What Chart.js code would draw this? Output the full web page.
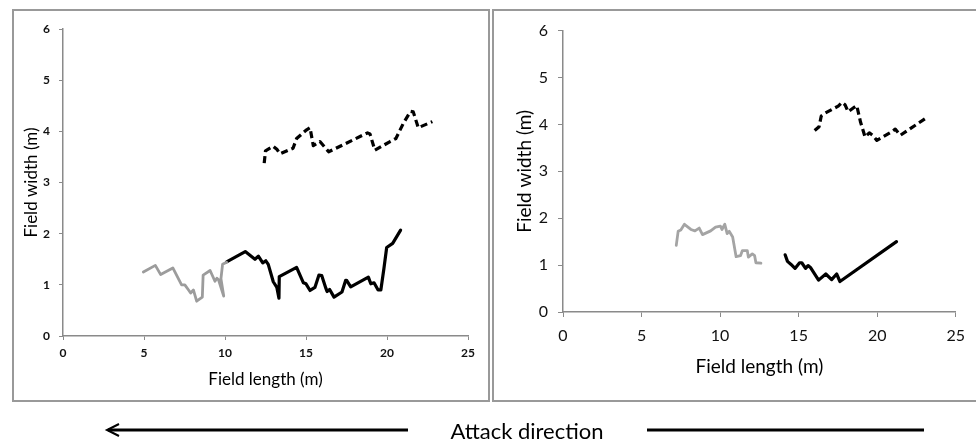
<!DOCTYPE html>
<html>
<head>
<meta charset="utf-8">
<script src="https://cdn.jsdelivr.net/npm/chart.js@4"></script>
<style>
body{margin:0;background:#fff;width:976px;height:444px;overflow:hidden;position:relative;font-family:Lato,sans-serif;}
.panel{position:absolute;border:2px solid #999;box-sizing:border-box;}
#panelA{left:12px;top:9px;width:478px;height:393px;}
#panelB{left:492px;top:9px;width:486px;height:393px;}
canvas.graf{position:absolute;}
#graficoA{left:14px;top:11px;}
#graficoB{left:495px;top:11px;}
#flecha{position:absolute;left:0;top:416px;}
#texto{position:absolute;left:407px;top:417px;width:240px;text-align:center;font-size:22px;color:#000;}
</style>
</head>
<body>
<div class="panel" id="panelA"></div>
<div class="panel" id="panelB"></div>
<canvas class="graf" id="graficoA" width="473" height="388"></canvas>
<canvas class="graf" id="graficoB" width="479" height="388"></canvas>
<canvas id="flecha" width="976" height="28"></canvas>
<div id="texto">Attack direction</div>
<script>
// panel izquierdo
var grisAx=[4.96,5.7,6.03,6.78,7.32,7.52,7.75,7.88,8.05,8.25,8.6,8.65,9.08,9.38,9.5,9.6,9.92,9.75,9.85,10.1];
var grisAy=[1.25,1.38,1.2,1.33,1.0,1.0,0.9,0.84,0.9,0.68,0.76,1.19,1.28,1.07,1.13,1.1,0.78,1.12,1.4,1.44];
var negroAx=[10.1,11.25,11.85,12.06,12.33,12.52,12.67,12.98,13.2,13.33,13.35,14.42,14.84,15.0,15.25,15.55,15.8,15.97,16.23,16.3,16.46,16.73,17.22,17.45,17.5,17.76,18.85,19.0,19.2,19.45,19.62,19.81,19.98,20.35,20.84];
var negroAy=[1.45,1.65,1.5,1.56,1.43,1.47,1.4,1.06,0.95,0.74,1.16,1.34,1.04,1.02,0.89,0.95,1.19,1.18,0.93,0.87,0.91,0.76,0.86,1.09,1.09,0.96,1.15,1.02,1.04,0.9,0.9,1.32,1.73,1.81,2.07];
var rayaAx=[12.42,12.5,12.97,13.2,13.4,14.2,14.42,15.04,15.25,15.45,15.86,16.4,18.8,18.95,19.25,20.19,20.55,21.0,21.45,21.62,21.93,22.8];
var rayaAy=[3.38,3.62,3.71,3.65,3.56,3.67,3.86,4.03,4.07,3.72,3.8,3.6,3.97,3.95,3.63,3.8,3.86,4.15,4.39,4.38,4.07,4.19];
// panel derecho
var grisBx=[7.21,7.33,7.5,7.73,8.14,8.4,8.67,8.88,9.4,9.71,10.02,10.12,10.3,10.45,10.58,10.8,11.02,11.3,11.42,11.73,11.8,12.05,12.2,12.28,12.6];
var grisBy=[1.42,1.72,1.75,1.87,1.76,1.73,1.79,1.65,1.73,1.81,1.83,1.76,1.87,1.67,1.72,1.6,1.18,1.2,1.31,1.31,1.17,1.24,1.2,1.05,1.04];
var negroBx=[14.14,14.29,14.5,14.77,15.06,15.2,15.44,15.6,15.75,16.27,16.73,17.1,17.42,17.63,21.23];
var negroBy=[1.22,1.08,1.02,0.93,1.05,1.05,0.93,0.99,0.95,0.68,0.81,0.69,0.81,0.65,1.5];
var rayaBx=[16.02,16.3,16.44,16.69,17.52,17.77,17.95,18.15,18.56,18.7,18.94,19.23,19.5,19.7,19.98,20.96,21.15,21.48,23.04];
var rayaBy=[3.87,3.95,4.18,4.24,4.39,4.47,4.42,4.27,4.37,4.4,4.05,3.73,3.82,3.77,3.66,3.85,3.9,3.77,4.12];

var ticksX=[0,5,10,15,20,25];
var ticksY=[0,1,2,3,4,5,6];

function puntos(xs,ys){
  var p=[];
  for(let i=0;i<xs.length;i++){p.push({x:xs[i],y:ys[i]});}
  return p;
}

function serie(xs,ys,color,ancho,guion){
  return {data:puntos(xs,ys),showLine:true,borderColor:color,borderWidth:ancho,
    borderDash:guion,pointRadius:0,tension:0,fill:false,borderJoinStyle:'round',borderCapStyle:guion.length?'butt':'round'};
}

function hacerGrafico(id,series,c){
  var ctx=document.getElementById(id).getContext('2d');
  return new Chart(ctx,{
    type:'scatter',
    data:{datasets:series},
    options:{
      responsive:false,animation:false,
      layout:{padding:{top:c.top,right:c.right,left:0,bottom:0}},
      plugins:{legend:{display:false},tooltip:{enabled:false}},
      scales:{
        x:{type:'linear',min:0,max:25,
          afterBuildTicks:function(s){s.ticks=ticksX.map(v=>({value:v}));},
          afterFit:function(s){s.height=c.alto;},
          grid:{drawOnChartArea:false,drawTicks:true,tickLength:c.tick,color:'#8a8a8a'},
          border:{color:'#8a8a8a',width:1.5},
          ticks:{color:'#111',padding:c.padX,font:c.fuenteTick},
          title:{display:true,text:'Field length (m)',color:'#000',font:c.fuenteTit,padding:c.titX}},
        y:{type:'linear',min:0,max:6,
          afterBuildTicks:function(s){s.ticks=ticksY.map(v=>({value:v}));},
          afterFit:function(s){s.width=c.anchoY;},
          grid:{drawOnChartArea:false,drawTicks:true,tickLength:c.tick,color:'#8a8a8a'},
          border:{color:'#8a8a8a',width:1.5},
          ticks:{color:'#111',padding:c.padY,font:c.fuenteTick},
          title:{display:true,text:'Field width (m)',color:'#000',font:c.fuenteTit,padding:c.titY}}
      }
    }
  });
}

var graficoA=hacerGrafico('graficoA',[
  serie(grisAx,grisAy,'#9c9c9c',2.8,[]),
  serie(negroAx,negroAy,'#000',3.2,[]),
  serie(rayaAx,rayaAy,'#000',3.2,[7,4])
],{top:18,right:19,alto:63,anchoY:49,tick:4,padX:6,padY:9,titX:8.8,titY:7.8,
   fuenteTick:{family:'Lato',size:12,weight:'bold'},fuenteTit:{family:'Lato',size:17}});

var graficoB=hacerGrafico('graficoB',[
  serie(grisBx,grisBy,'#a4a4a4',2.8,[]),
  serie(negroBx,negroBy,'#000',3.2,[]),
  serie(rayaBx,rayaBy,'#000',3.2,[7,4])
],{top:18,right:11,alto:87,anchoY:68,tick:5,padX:9,padY:10,titX:20.6,titY:18.6,
   fuenteTick:{family:'Lato',size:16},fuenteTit:{family:'Lato',size:19}});

// flecha de direccion de ataque
var f=document.getElementById('flecha').getContext('2d');
f.strokeStyle='#000';f.lineWidth=3;
f.beginPath();f.moveTo(108,14);f.lineTo(408,14);f.stroke();
f.lineWidth=2;
f.beginPath();f.moveTo(119,8);f.lineTo(107,14);f.lineTo(119,20);f.stroke();
f.lineWidth=3;
f.beginPath();f.moveTo(647,14);f.lineTo(924,14);f.stroke();
</script>
</body>
</html>
